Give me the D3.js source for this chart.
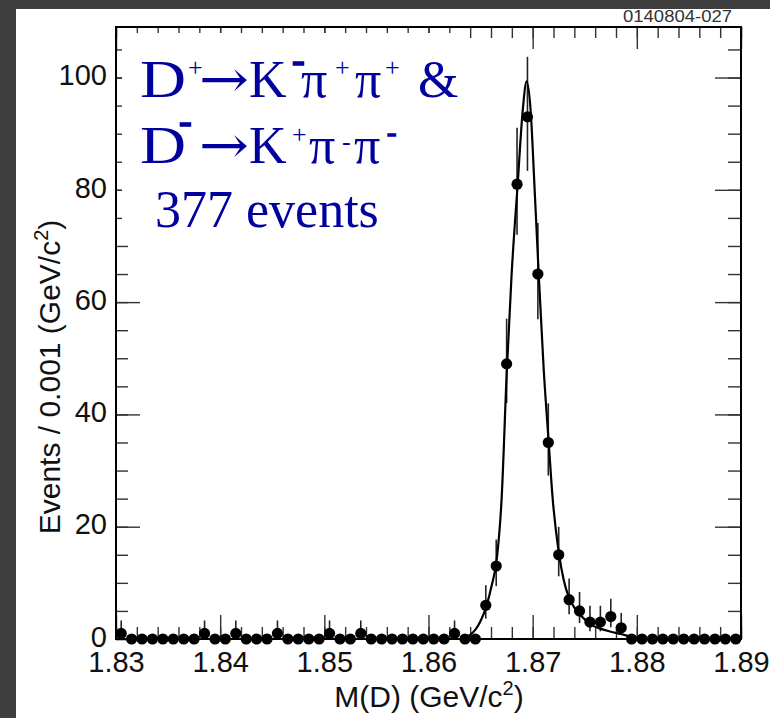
<!DOCTYPE html>
<html>
<head>
<meta charset="utf-8">
<script src="https://cdn.jsdelivr.net/npm/d3@7"></script>
<style>
body { margin: 0; background: #fff; }
svg { display: block; }
</style>
</head>
<body>
<svg id="chart" width="770" height="718"></svg>
<script>
// histogram binning (GeV/c^2)
var BIN_LOW = 1.830;
var BIN_WIDTH = 0.001;
var counts = [
    1, 0, 0, 0, 0, 0, 0, 0, 1, 0,
    0, 1, 0, 0, 0, 1, 0, 0, 0, 0,
    1, 0, 0, 1, 0, 0, 0, 0, 0, 0,
    0, 0, 1, 0, 0, 6, 13, 49, 81, 93,
    65, 35, 15, 7, 5, 3, 3, 4, 2, 0,
    0, 0, 0, 0, 0, 0, 0, 0, 0, 0
];
// asymmetric (poisson) error bars
var errLow = [
    .83, 0, 0, 0, 0, 0, 0, 0, .83, 0,
    0, .83, 0, 0, 0, .83, 0, 0, 0, 0,
    .83, 0, 0, .83, 0, 0, 0, 0, 0, 0,
    0, 0, .83, 0, 0, 2.38, 3.58, 6.97, 8.98, 9.62,
    8.04, 5.89, 3.84, 2.58, 2.16, 1.63, 1.63, 1.91, 1.29, 0,
    0, 0, 0, 0, 0, 0, 0, 0, 0, 0
];
var errHigh = [
    2.30, 0, 0, 0, 0, 0, 0, 0, 2.30, 0,
    0, 2.30, 0, 0, 0, 2.30, 0, 0, 0, 0,
    2.30, 0, 0, 2.30, 0, 0, 0, 0, 0, 0,
    0, 0, 2.30, 0, 0, 3.58, 4.71, 8.05, 10.05, 10.69,
    9.11, 6.97, 4.96, 3.77, 3.38, 2.92, 2.92, 3.16, 2.64, 0,
    0, 0, 0, 0, 0, 0, 0, 0, 0, 0
];
// fitted curve
var fitMass = [1.830, 1.86115, 1.86308, 1.86356, 1.86404, 1.86452, 1.86500, 1.86558, 1.86606, 1.86654,
    1.86702, 1.86750, 1.86798, 1.86856, 1.86904, 1.86942, 1.86981, 1.87019, 1.87058, 1.87106,
    1.87154, 1.87192, 1.87250, 1.87298, 1.87346, 1.87404, 1.87462, 1.87558, 1.87654, 1.87750,
    1.87846, 1.87942, 1.88038, 1.890];
var fitEvents = [0, 0, 0, 0.3, 0.8, 1.7, 3.2, 6, 9.5, 14,
    25, 47, 65, 81, 94, 99.3, 94, 80, 65, 48,
    35, 25, 15.5, 10.5, 7.5, 5.5, 4.2, 2.6, 1.8, 1.3,
    0.9, 0.4, 0, 0];
var xTicks = [1.83, 1.84, 1.85, 1.86, 1.87, 1.88, 1.89];
var yTicks = [0, 20, 40, 60, 80, 100];
var xTitle = 'M(D) (GeV/c';
var yTitle = 'Events / 0.001 (GeV/c';
var plotTag = '0140804-027';

var INK = '#111';
var TEXT_BLUE = '#00009e';
var BORDER = '#3e3e3e';
var SANS = '"Liberation Sans", Arial, Helvetica, sans-serif';
var SERIF = '"Liberation Serif", "Times New Roman", serif';
var ARROW_FONT = '"DejaVu Serif", "DejaVu Sans", serif';

var svg = d3.select('#chart');
var x = d3.scaleLinear().domain([1.83, 1.89]).range([116, 741]);
var y = d3.scaleLinear().domain([0, 109]).range([639, 27]);
var xMinor = d3.range(0, 31).map(function (i) { return 1.83 + i * 0.002; });
var yMinor = d3.range(0, 22).map(function (i) { return i * 5; });

svg.append('rect').attr('width', 770).attr('height', 718).attr('fill', '#fff');

/** draw one tick set; labels only on the major bottom/left axes */
function ticks(axis, transform) {
    var g = svg.append('g').attr('transform', transform).call(axis);
    g.select('.domain').remove();
    g.selectAll('line').attr('stroke', '#333').attr('stroke-width', 1.4);
    g.selectAll('text').attr('fill', INK).style('font-family', SANS).style('font-size', '29px');
    return g;
}
ticks(d3.axisBottom(x).tickValues(xMinor).tickSizeInner(-12).tickSizeOuter(0).tickFormat(''), 'translate(0,639)');
ticks(d3.axisBottom(x).tickValues(xTicks).tickSizeInner(-24).tickSizeOuter(0).tickPadding(12).
    tickFormat(d3.format('.2f')), 'translate(0,639)');
ticks(d3.axisTop(x).tickValues(xMinor).tickSizeInner(-11).tickSizeOuter(0).tickFormat(''), 'translate(0,27)');
ticks(d3.axisTop(x).tickValues(xTicks).tickSizeInner(-22).tickSizeOuter(0).tickFormat(''), 'translate(0,27)');
ticks(d3.axisLeft(y).tickValues(yMinor).tickSizeInner(-12).tickSizeOuter(0).tickFormat(''), 'translate(116,0)');
ticks(d3.axisLeft(y).tickValues(yTicks).tickSizeInner(-24).tickSizeOuter(0).tickPadding(9).
    tickFormat(d3.format('d')), 'translate(116,0)').
    selectAll('text').attr('dy', '0.25em');
ticks(d3.axisRight(y).tickValues(yMinor).tickSizeInner(-13).tickSizeOuter(0).tickFormat(''), 'translate(741,0)');
ticks(d3.axisRight(y).tickValues(yTicks).tickSizeInner(-26).tickSizeOuter(0).tickFormat(''), 'translate(741,0)');

// white patch behind the pasted-in label
svg.append('rect').attr('x', 122).attr('y', 33).attr('width', 342).attr('height', 212).attr('fill', '#fff');

// frame
svg.append('rect').
    attr('x', 116).attr('y', 27).attr('width', 625).attr('height', 612).
    attr('fill', 'none').attr('stroke', '#000').attr('stroke-width', 2);

// axis titles
var xt = svg.append('text').attr('x', 429).attr('y', 707).attr('text-anchor', 'middle').
    attr('fill', INK).style('font-family', SANS).style('font-size', '30px');
xt.append('tspan').text(xTitle);
xt.append('tspan').attr('dy', -12).style('font-size', '20px').text('2');
xt.append('tspan').attr('dy', 12).text(')');

var yt = svg.append('text').attr('transform', 'translate(60,377) rotate(-90)').attr('text-anchor', 'middle').
    attr('fill', INK).style('font-family', SANS).style('font-size', '30px');
yt.append('tspan').text(yTitle);
yt.append('tspan').attr('dy', -12).style('font-size', '20px').text('2');
yt.append('tspan').attr('dy', 12).text(')');

// decay label, each glyph placed as in the original slide
var label = [
    { t: 'D', x: 140, y: 97, s: 52, w: 46 },
    { t: '+', x: 188, y: 76, s: 26 },
    { t: '\u2192', x: 199, y: 97, s: 52, w: 50, f: ARROW_FONT },
    { t: 'K', x: 249, y: 97, s: 52 },
    { t: '-', x: 292, y: 73, s: 38, b: true },
    { t: '\u03c0', x: 301, y: 97, s: 52 },
    { t: '+', x: 335, y: 76, s: 26 },
    { t: '\u03c0', x: 355, y: 97, s: 52 },
    { t: '+', x: 385, y: 76, s: 26 },
    { t: '&', x: 418, y: 97, s: 52 },
    { t: 'D', x: 140, y: 163, s: 52, w: 46 },
    { t: '-', x: 179, y: 134, s: 38, b: true },
    { t: '\u2192', x: 199, y: 163, s: 52, w: 50, f: ARROW_FONT },
    { t: 'K', x: 249, y: 163, s: 52 },
    { t: '+', x: 292, y: 143, s: 26 },
    { t: '\u03c0', x: 309, y: 163, s: 52 },
    { t: '-', x: 342, y: 150, s: 26 },
    { t: '\u03c0', x: 354, y: 163, s: 52 },
    { t: '-', x: 387, y: 141, s: 28, b: true },
    { t: '377 events', x: 155, y: 227, s: 52 }
];
svg.append('g').selectAll('text').data(label).enter().append('text').
    attr('x', function (d) { return d.x; }).
    attr('y', function (d) { return d.y; }).
    attr('textLength', function (d) { return d.w || null; }).
    attr('lengthAdjust', 'spacingAndGlyphs').
    attr('fill', TEXT_BLUE).
    attr('stroke', function (d) { return d.b ? TEXT_BLUE : null; }).
    attr('stroke-width', function (d) { return d.b ? 1.6 : null; }).
    style('font-family', function (d) { return d.f || SERIF; }).
    style('font-size', function (d) { return d.s + 'px'; }).
    text(function (d) { return d.t; });

// data
svg.append('clipPath').attr('id', 'plot-clip').append('rect').
    attr('x', 116).attr('y', 27).attr('width', 625).attr('height', 612);
var bins = counts.map(function (c, i) {
    return { mass: BIN_LOW + (i + 0.5) * BIN_WIDTH, n: c, lo: errLow[i], hi: errHigh[i] };
});
svg.append('g').attr('clip-path', 'url(#plot-clip)').selectAll('line').
    data(bins.filter(function (d) { return d.n > 0; })).enter().append('line').
    attr('x1', function (d) { return x(d.mass); }).
    attr('x2', function (d) { return x(d.mass); }).
    attr('y1', function (d) { return y(d.n - d.lo); }).
    attr('y2', function (d) { return y(d.n + d.hi); }).
    attr('stroke', '#222').attr('stroke-width', 1.6);
svg.append('g').selectAll('circle').data(bins).enter().append('circle').
    attr('cx', function (d) { return x(d.mass); }).
    attr('cy', function (d) { return y(d.n); }).
    attr('r', 5.6).attr('fill', '#000');
var fitLine = d3.line().
    x(function (d, i) { return x(fitMass[i]); }).
    y(function (d) { return y(d); }).
    curve(d3.curveMonotoneX);
svg.append('path').datum(fitEvents).attr('d', fitLine).
    attr('fill', 'none').attr('stroke', '#000').attr('stroke-width', 2.2);

// plot id tag and the dark slide border
svg.append('text').attr('x', 623).attr('y', 22).attr('textLength', 109).attr('lengthAdjust', 'spacingAndGlyphs').
    attr('fill', '#333').style('font-family', SANS).style('font-size', '17px').text(plotTag);
svg.append('rect').attr('x', 0).attr('y', 0).attr('width', 770).attr('height', 9).attr('fill', BORDER);
svg.append('rect').attr('x', 0).attr('y', 0).attr('width', 16).attr('height', 718).attr('fill', BORDER);
</script>
</body>
</html>
